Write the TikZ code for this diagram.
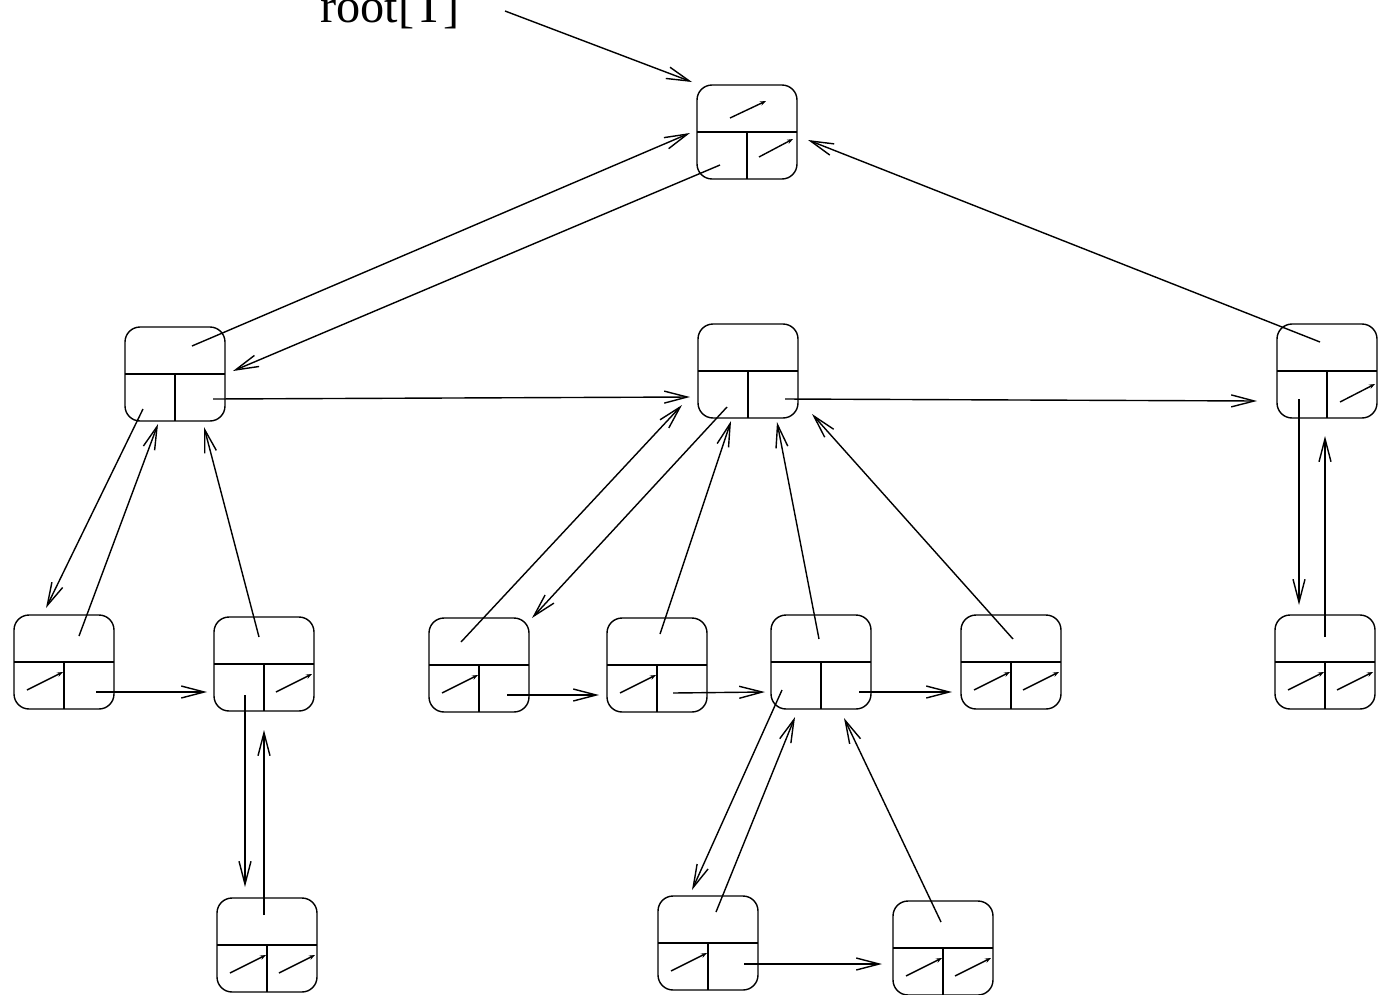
\documentclass[tikz,border=0pt]{standalone}
\usepackage{fontspec}
\setmainfont{Liberation Serif}
\usetikzlibrary{arrows.meta}

\begin{document}
\begin{tikzpicture}[x=0.02cm, y=-0.02cm, line width=0.8pt,
  cell/.style={draw, rounded corners=0.3cm, minimum width=2cm, minimum height=1.88cm, inner sep=0pt,
    path picture={\draw (path picture bounding box.west) -- (path picture bounding box.east)
      (path picture bounding box.center) -- (path picture bounding box.south);}},
  ptr/.style={-{Straight Barb[length=4.6mm, width=2.4mm]}},
  nil/.style={-{Stealth[length=1.2mm, width=0.9mm]}},
  lab/.style={font=\fontsize{27.5}{30}\selectfont, anchor=base, inner sep=0pt}]
\useasboundingbox (0,0) rectangle (1389,994);
\node[lab] (lbl) at (390,22) {root[T]};
\node[cell] (root) at (747,132) {};
\node[cell] (A) at (175,374) {};
\node[cell] (B) at (748,371) {};
\node[cell] (C) at (1327,371) {};
\node[cell] (A1) at (64,662) {};
\node[cell] (A2) at (264,664) {};
\node[cell] (A2a) at (267,945) {};
\node[cell] (B1) at (479,665) {};
\node[cell] (B2) at (657,665) {};
\node[cell] (B3) at (821,662) {};
\node[cell] (B4) at (1011,662) {};
\node[cell] (C1) at (1325,662) {};
\node[cell] (B3a) at (708,943) {};
\node[cell] (B3b) at (943,948) {};
% nil pointers
\draw[nil] ([shift={(-17,-14)}]root.center) -- ++(36,-17); \draw[nil] ([shift={(12,25)}]root.center) -- ++(34,-18);
\draw[nil] ([shift={(13,31)}]C.center) -- ++(35,-18);
\draw[nil] ([shift={(-37,28)}]A1.center) -- ++(36,-18); \draw[nil] ([shift={(12,28)}]A2.center) -- ++(36,-18);
\draw[nil] ([shift={(-37,28)}]A2a.center) -- ++(36,-18); \draw[nil] ([shift={(12,28)}]A2a.center) -- ++(36,-18);
\draw[nil] ([shift={(-37,28)}]B1.center) -- ++(36,-18); \draw[nil] ([shift={(-37,28)}]B2.center) -- ++(36,-18);
\draw[nil] ([shift={(-37,28)}]B4.center) -- ++(36,-18); \draw[nil] ([shift={(12,28)}]B4.center) -- ++(36,-18);
\draw[nil] ([shift={(-37,28)}]C1.center) -- ++(36,-18); \draw[nil] ([shift={(12,28)}]C1.center) -- ++(36,-18);
\draw[nil] ([shift={(-37,28)}]B3a.center) -- ++(36,-18);
\draw[nil] ([shift={(-37,28)}]B3b.center) -- ++(36,-18); \draw[nil] ([shift={(12,28)}]B3b.center) -- ++(36,-18);
% links
\draw[ptr] ([shift={(115,-11)}]lbl.base) -- ([shift={(-55,-50)}]root.center);
\draw[ptr] ([shift={(17,-28)}]A.center) -- ([shift={(-57,1)}]root.center);
\draw[ptr] ([shift={(-27,33)}]root.center) -- ([shift={(58,-3)}]A.center);
\draw[ptr] ([shift={(-7,-29)}]C.center) -- ([shift={(61,8)}]root.center);
\draw[ptr] ([shift={(38,25)}]A.center) -- ([shift={(-58,26)}]B.center);
\draw[ptr] ([shift={(37,28)}]B.center) -- ([shift={(-70,30)}]C.center);
\draw[ptr] ([shift={(-32,35)}]A.center) -- ([shift={(-18,-54)}]A1.center);
\draw[ptr] ([shift={(15,-26)}]A1.center) -- ([shift={(-17,50)}]A.center);
\draw[ptr] ([shift={(-5,-27)}]A2.center) -- ([shift={(29,53)}]A.center);
\draw[ptr] ([shift={(32,30)}]A1.center) -- ([shift={(-57,28)}]A2.center);
\draw[ptr] ([shift={(-19,31)}]A2.center) -- ([shift={(-22,-58)}]A2a.center);
\draw[ptr] ([shift={(-3,-30)}]A2a.center) -- ([shift={(0,66)}]A2.center);
\draw[ptr] ([shift={(-18,-23)}]B1.center) -- ([shift={(-66,34)}]B.center);
\draw[ptr] ([shift={(-21,36)}]B.center) -- ([shift={(53,-47)}]B1.center);
\draw[ptr] ([shift={(3,-31)}]B2.center) -- ([shift={(-17,50)}]B.center);
\draw[ptr] ([shift={(-2,-23)}]B3.center) -- ([shift={(29,51)}]B.center);
\draw[ptr] ([shift={(2,-23)}]B4.center) -- ([shift={(64,43)}]B.center);
\draw[ptr] ([shift={(28,30)}]B1.center) -- ([shift={(-58,30)}]B2.center);
\draw[ptr] ([shift={(16,28)}]B2.center) -- ([shift={(-56,30)}]B3.center);
\draw[ptr] ([shift={(38,30)}]B3.center) -- ([shift={(-59,30)}]B4.center);
\draw[ptr] ([shift={(-39,28)}]B3.center) -- ([shift={(-16,-53)}]B3a.center);
\draw[ptr] ([shift={(8,-31)}]B3a.center) -- ([shift={(-26,55)}]B3.center);
\draw[ptr] ([shift={(-2,-26)}]B3b.center) -- ([shift={(23,56)}]B3.center);
\draw[ptr] ([shift={(36,21)}]B3a.center) -- ([shift={(-61,16)}]B3b.center);
\draw[ptr] ([shift={(-28,28)}]C.center) -- ([shift={(-26,-57)}]C1.center);
\draw[ptr] ([shift={(0,-25)}]C1.center) -- ([shift={(-2,65)}]C.center);
\end{tikzpicture}
\end{document}
